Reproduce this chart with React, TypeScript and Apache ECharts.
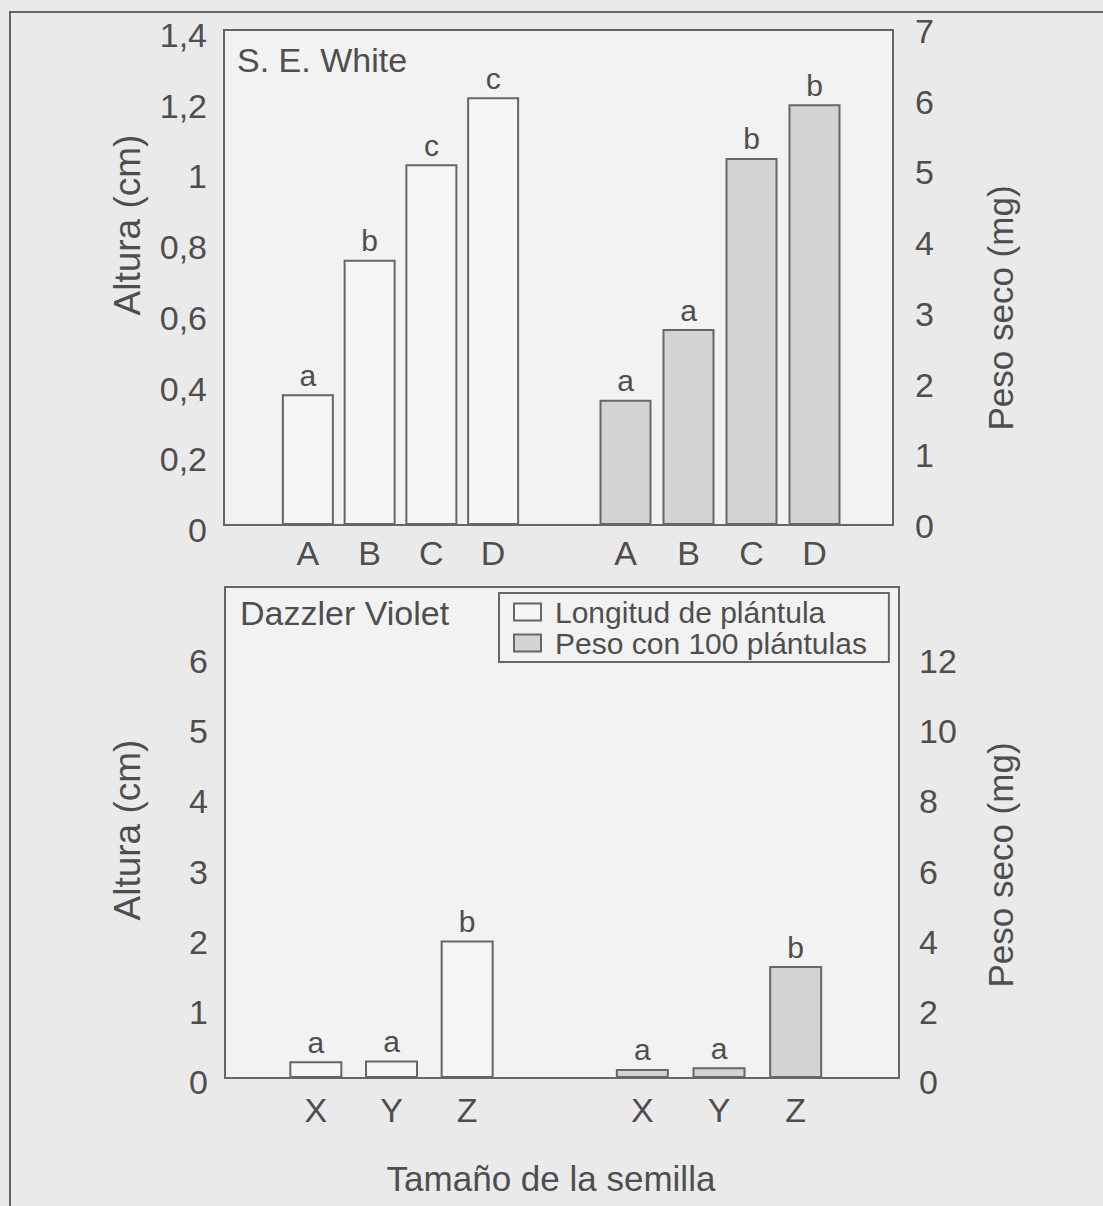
import React, { useEffect, useRef } from 'react';
import * as echarts from 'echarts';

const topCategories = ['A', 'B', 'C', 'D'];
const bottomCategories = ['X', 'Y', 'Z'];
const topAltura = [0.37, 0.75, 1.02, 1.21];
const topPeso = [1.77, 2.77, 5.19, 5.95];
const topAlturaLetters = ['a', 'b', 'c', 'c'];
const topPesoLetters = ['a', 'a', 'b', 'b'];
const bottomAltura = [0.24, 0.25, 1.96];
const bottomPeso = [0.26, 0.31, 3.19];
const bottomAlturaLetters = ['a', 'a', 'b'];
const bottomPesoLetters = ['a', 'a', 'b'];
const topLeftTicks = ['0', '0,2', '0,4', '0,6', '0,8', '1', '1,2', '1,4'];
const topRightTicks = ['0', '1', '2', '3', '4', '5', '6', '7'];
const bottomLeftTicks = ['0', '1', '2', '3', '4', '5', '6', '7'];
const bottomRightTicks = ['0', '2', '4', '6', '8', '10', '12', '14'];
const seriesNames = ['Longitud de plántula', 'Peso con 100 plántulas'];
const panelTitles = ['S. E. White', 'Dazzler Violet'];
const yNameLeft = 'Altura (cm)';
const yNameRight = 'Peso seco (mg)';
const xName = 'Tamaño de la semilla';

const FONT = '"Liberation Sans", Arial, Helvetica, sans-serif';
const TEXT = '#4e4e4e';
const LINE = '#666666';
const OPEN_FILL = '#f6f6f6';
const GRAY_FILL = '#d3d3d3';

function tickFormatter(labels: string[], step: number) {
  return (v: number) => labels[Math.round(v / step)] ?? '';
}

function barSeries(
  name: string,
  xi: number,
  yi: number,
  data: number[],
  letters: string[],
  fill: string,
  width: number
) {
  return {
    type: 'bar',
    name,
    xAxisIndex: xi,
    yAxisIndex: yi,
    data,
    barWidth: width,
    itemStyle: { color: fill, borderColor: LINE, borderWidth: 2 },
    label: {
      show: true,
      position: 'top',
      distance: 4,
      formatter: (p: any) => letters[p.dataIndex],
      color: TEXT,
      fontSize: 30,
      fontFamily: FONT,
    },
  };
}

function valueAxisVisible(
  grid: number,
  pos: string,
  max: number,
  interval: number,
  labels: string[],
  margin: number,
  hideMax: boolean,
  shiftDown: number
) {
  return {
    type: 'value',
    gridIndex: grid,
    position: pos,
    min: 0,
    max,
    interval,
    axisLine: { show: false },
    axisTick: { show: false },
    splitLine: { show: false },
    axisLabel: {
      show: true,
      margin,
      color: TEXT,
      fontSize: 34,
      fontFamily: FONT,
      verticalAlign: 'top',
      lineHeight: shiftDown * 2,
      showMaxLabel: !hideMax,
      formatter: tickFormatter(labels, interval),
    },
  };
}

function hiddenValueAxis(grid: number, max: number) {
  return { type: 'value', gridIndex: grid, min: 0, max, show: false, splitLine: { show: false } };
}

function categoryAxis(grid: number, data: string[], margin: number) {
  return {
    type: 'category',
    gridIndex: grid,
    data,
    axisLine: { show: false },
    axisTick: { show: false },
    splitLine: { show: false },
    axisLabel: { margin, color: TEXT, fontSize: 34, fontFamily: FONT },
  };
}

export default function App() {
  const ref = useRef<HTMLDivElement>(null);

  useEffect(() => {
    if (!ref.current) return;
    const chart = echarts.init(ref.current, undefined, { renderer: 'svg' });
    const boxGrid = {
      show: true,
      borderColor: LINE,
      borderWidth: 2,
      backgroundColor: '#f2f2f2',
    };
    const option: any = {
      animation: false,
      backgroundColor: '#eaeaea',
      grid: [
        { ...boxGrid, left: 224, top: 30, width: 669, height: 495 },
        { left: 277, top: 30, width: 247, height: 495 },
        { left: 594, top: 30, width: 252, height: 495 },
        { ...boxGrid, left: 225, top: 587, width: 674, height: 491 },
        { left: 278, top: 587, width: 227, height: 491 },
        { left: 604, top: 587, width: 230, height: 491 },
      ],
      xAxis: [
        { type: 'value', gridIndex: 0, min: 0, max: 1, show: false },
        categoryAxis(1, topCategories, 11),
        categoryAxis(2, topCategories, 11),
        { type: 'value', gridIndex: 3, min: 0, max: 1, show: false },
        categoryAxis(4, bottomCategories, 15),
        categoryAxis(5, bottomCategories, 15),
      ],
      yAxis: [
        valueAxisVisible(0, 'left', 1.4, 0.2, topLeftTicks, 17, false, 5),
        valueAxisVisible(0, 'right', 7, 1, topRightTicks, 22, false, 1),
        hiddenValueAxis(1, 1.4),
        hiddenValueAxis(2, 7),
        valueAxisVisible(3, 'left', 7, 1, bottomLeftTicks, 17, true, 4),
        valueAxisVisible(3, 'right', 14, 2, bottomRightTicks, 20, true, 4),
        hiddenValueAxis(4, 7),
        hiddenValueAxis(5, 14),
      ],
      legend: {
        data: seriesNames,
        orient: 'vertical',
        left: 499,
        top: 593,
        padding: [4, 22, 4, 14],
        itemGap: 1,
        itemWidth: 27,
        itemHeight: 17,
        icon: 'rect',
        borderColor: LINE,
        borderWidth: 2,
        selectedMode: false,
        textStyle: { color: TEXT, fontSize: 30, fontFamily: FONT, padding: [0, 0, 0, 9] },
      },
      graphic: [
        {
          type: 'rect',
          shape: { x: 10, y: 12, width: 1200, height: 1300 },
          style: { fill: 'none', stroke: LINE, lineWidth: 2 },
          silent: true,
        },
        {
          type: 'text',
          x: 237,
          y: 60,
          style: { text: panelTitles[0], fill: TEXT, fontSize: 34, fontFamily: FONT, align: 'left', verticalAlign: 'middle' },
        },
        {
          type: 'text',
          x: 240,
          y: 613,
          style: { text: panelTitles[1], fill: TEXT, fontSize: 34, fontFamily: FONT, align: 'left', verticalAlign: 'middle' },
        },
        {
          type: 'text',
          x: 127,
          y: 225,
          rotation: Math.PI / 2,
          style: { text: yNameLeft, fill: TEXT, fontSize: 37, fontFamily: FONT, align: 'center', verticalAlign: 'middle' },
        },
        {
          type: 'text',
          x: 127,
          y: 830,
          rotation: Math.PI / 2,
          style: { text: yNameLeft, fill: TEXT, fontSize: 37, fontFamily: FONT, align: 'center', verticalAlign: 'middle' },
        },
        {
          type: 'text',
          x: 1000,
          y: 308,
          rotation: Math.PI / 2,
          style: { text: yNameRight, fill: TEXT, fontSize: 35, fontFamily: FONT, align: 'center', verticalAlign: 'middle' },
        },
        {
          type: 'text',
          x: 1000,
          y: 865,
          rotation: Math.PI / 2,
          style: { text: yNameRight, fill: TEXT, fontSize: 35, fontFamily: FONT, align: 'center', verticalAlign: 'middle' },
        },
        {
          type: 'text',
          x: 551,
          y: 1178,
          style: { text: xName, fill: TEXT, fontSize: 35, fontFamily: FONT, align: 'center', verticalAlign: 'middle' },
        },
      ],
      series: [
        barSeries(seriesNames[0], 1, 2, topAltura, topAlturaLetters, OPEN_FILL, 52),
        barSeries(seriesNames[1], 2, 3, topPeso, topPesoLetters, GRAY_FILL, 52),
        barSeries(seriesNames[0], 4, 6, bottomAltura, bottomAlturaLetters, OPEN_FILL, 53),
        barSeries(seriesNames[1], 5, 7, bottomPeso, bottomPesoLetters, GRAY_FILL, 53),
      ],
    };
    chart.setOption(option);
    return () => chart.dispose();
  }, []);

  return (
    <div
      ref={ref}
      style={{ position: 'fixed', left: 0, top: 0, width: 1103, height: 1206 }}
    />
  );
}
